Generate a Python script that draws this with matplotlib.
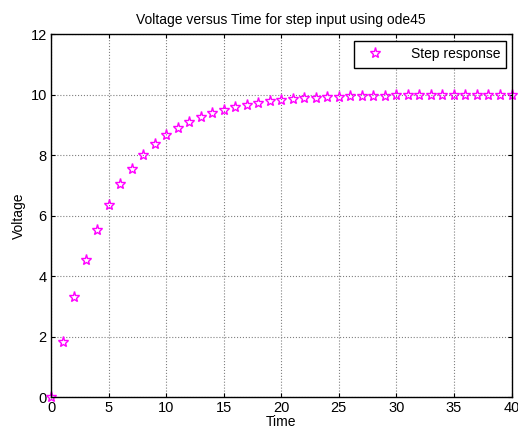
import numpy as np
import matplotlib
matplotlib.use("Agg")
import matplotlib.pyplot as plt

plt.rcParams['font.family'] = ['Liberation Sans', 'DejaVu Sans']

# step response, t = 0..40 s
time = list(range(41))
voltage = [0.0, 1.82, 3.30, 4.52, 5.52, 6.35, 7.03, 7.55, 8.00, 8.36,
           8.66, 8.90, 9.10, 9.26, 9.39, 9.50, 9.60, 9.67, 9.73, 9.78,
           9.82, 9.85, 9.88, 9.90, 9.92, 9.93, 9.95, 9.96, 9.96, 9.97,
           9.98, 9.98, 9.99, 9.99, 9.99, 9.99, 9.99, 10.0, 10.0, 10.0, 10.0]
x_ticks = [0, 5, 10, 15, 20, 25, 30, 35, 40]
y_ticks = [0, 2, 4, 6, 8, 10, 12]

fig = plt.figure(figsize=(5.18, 4.32), dpi=100, facecolor='w')
ax = fig.add_axes([0.0985, 0.081, 0.889, 0.840])

ax.plot(time, voltage, linestyle='none', marker='*', markersize=8,
        markerfacecolor='none', markeredgecolor='#ff00ff', markeredgewidth=1.0,
        label='Step response', clip_on=False)

ax.set_xlim(0, 40)
ax.set_ylim(0, 12)
ax.set_xticks(x_ticks)
ax.set_yticks(y_ticks)
ax.tick_params(direction='in', length=3, labelsize=10.5, top=True, right=True,
               labeltop=False, labelright=False, pad=3)
ax.grid(True, color='#808080', linestyle=':', linewidth=0.8)
for s in ax.spines.values():
    s.set_linewidth(1.0)

ax.set_title('Voltage versus Time for step input using ode45', fontsize=10, pad=7)
ax.set_xlabel('Time', fontsize=10, labelpad=0)
ax.set_ylabel('Voltage', fontsize=10, labelpad=3)

leg = ax.legend(loc='upper right', fontsize=10, fancybox=False, framealpha=1,
                edgecolor='black', borderpad=0.45, handletextpad=1.6,
                borderaxespad=0, bbox_to_anchor=(0.989, 0.981))
leg.get_frame().set_linewidth(1.0)

fig.savefig('out.png', dpi=100)
